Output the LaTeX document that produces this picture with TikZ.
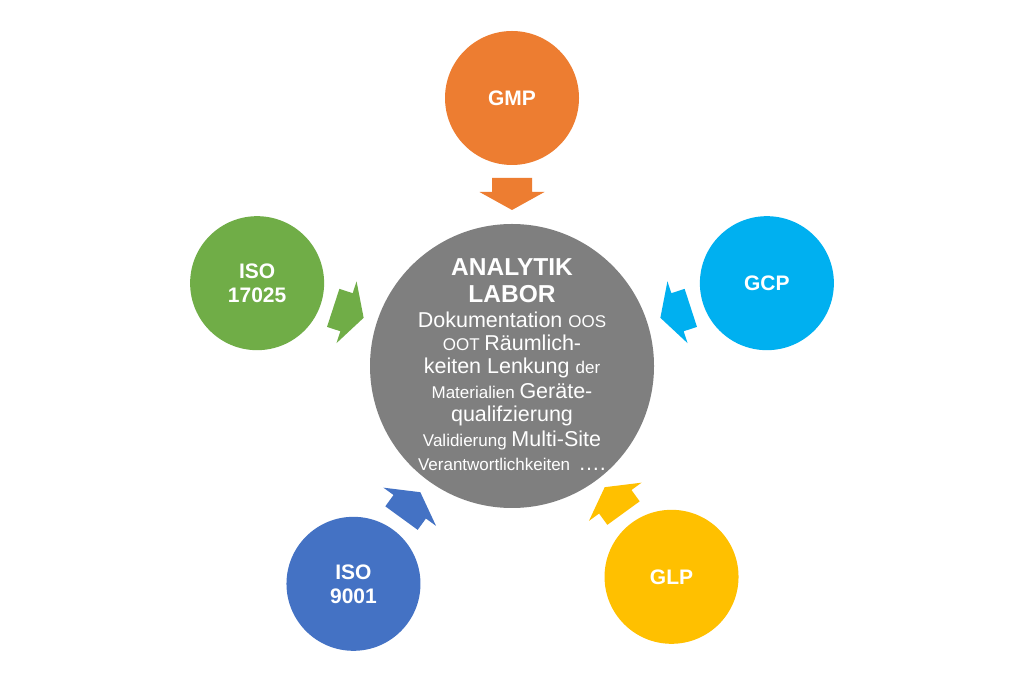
\documentclass[tikz,border=0pt]{standalone}
\usepackage{fontspec}
\setmainfont{Liberation Sans}
\usetikzlibrary{calc}
\definecolor{cOrange}{HTML}{ED7D31}
\definecolor{cGreen}{HTML}{70AD47}
\definecolor{cSky}{HTML}{00B0F0}
\definecolor{cBlue}{HTML}{4472C4}
\definecolor{cGold}{HTML}{FFC000}
\definecolor{cGray}{HTML}{7F7F7F}
\newcommand\txbig{\fontsize{21.5}{24}\selectfont}
\newcommand\txsmall{\fontsize{17}{24}\selectfont}
\newcommand\blockarrowat[3]{%
  \begin{scope}[shift={($(c)+(#1:172)+(#3)$)},rotate=#1+180]
    \fill[#2] (-16,-20) -- (-2,-20) -- (-2,-32.5) -- (16,0) -- (-2,32.5) -- (-2,20) -- (-16,20) -- cycle;
  \end{scope}}
\begin{document}
\begin{tikzpicture}[x=1pt,y=1pt,
  sat/.style={circle,minimum size=134pt,inner sep=0pt,text=white,align=center,
    font=\fontsize{21}{24}\selectfont\bfseries},
  hub/.style={circle,minimum size=284pt,inner sep=0pt,fill=cGray},
  line/.style={text=white,anchor=base,inner sep=0pt}
]
\useasboundingbox[fill=white] (0,0) rectangle (1024,682);
\coordinate (c) at (512,316);
\node[hub] (hub) at (c) {};
\node[sat,fill=cOrange] (gmp) at ($(c)+(90:268)$) {GMP};
\node[sat,fill=cSky] (gcp) at ($(c)+(18:268)$) {GCP};
\node[sat,fill=cGreen] (iso17025) at ($(c)+(162:268)$) {ISO\\17025};
\node[sat,fill=cBlue] (iso9001) at ($(c)+(234:268)+(-1,-1)$) {ISO\\9001};
\node[sat,fill=cGold] (glp) at ($(c)+(306:268)+(2,6)$) {GLP};
\blockarrowat{90}{cOrange}{0,0}
\blockarrowat{18}{cSky}{0,0}
\blockarrowat{162}{cGreen}{0,0}
\blockarrowat{234}{cBlue}{0,0}
\blockarrowat{306}{cGold}{1,5}
\node[line,font=\fontsize{24.5}{27}\selectfont\bfseries] (t1) at (512,406) {ANALYTIK};
\node[line,font=\fontsize{24.5}{27}\selectfont\bfseries] (t2) at (512,379) {LABOR};
\node[line] (t3) at (512,354) {\txbig Dokumentation \txsmall OOS};
\node[line] (t4) at (512,331) {\txsmall OOT \txbig Räumlich-};
\node[line] (t5) at (512,308) {\txbig keiten Lenkung \txsmall der};
\node[line] (t6) at (512,283) {\txsmall Materialien \txbig Geräte-};
\node[line] (t7) at (512,260) {\txbig qualifzierung};
\node[line] (t8) at (512,235) {\txsmall Validierung \txbig Multi-Site};
\node[line] (t9) at (512,211) {\txsmall Verantwortlichkeiten \txbig\,….};
\end{tikzpicture}
\end{document}
